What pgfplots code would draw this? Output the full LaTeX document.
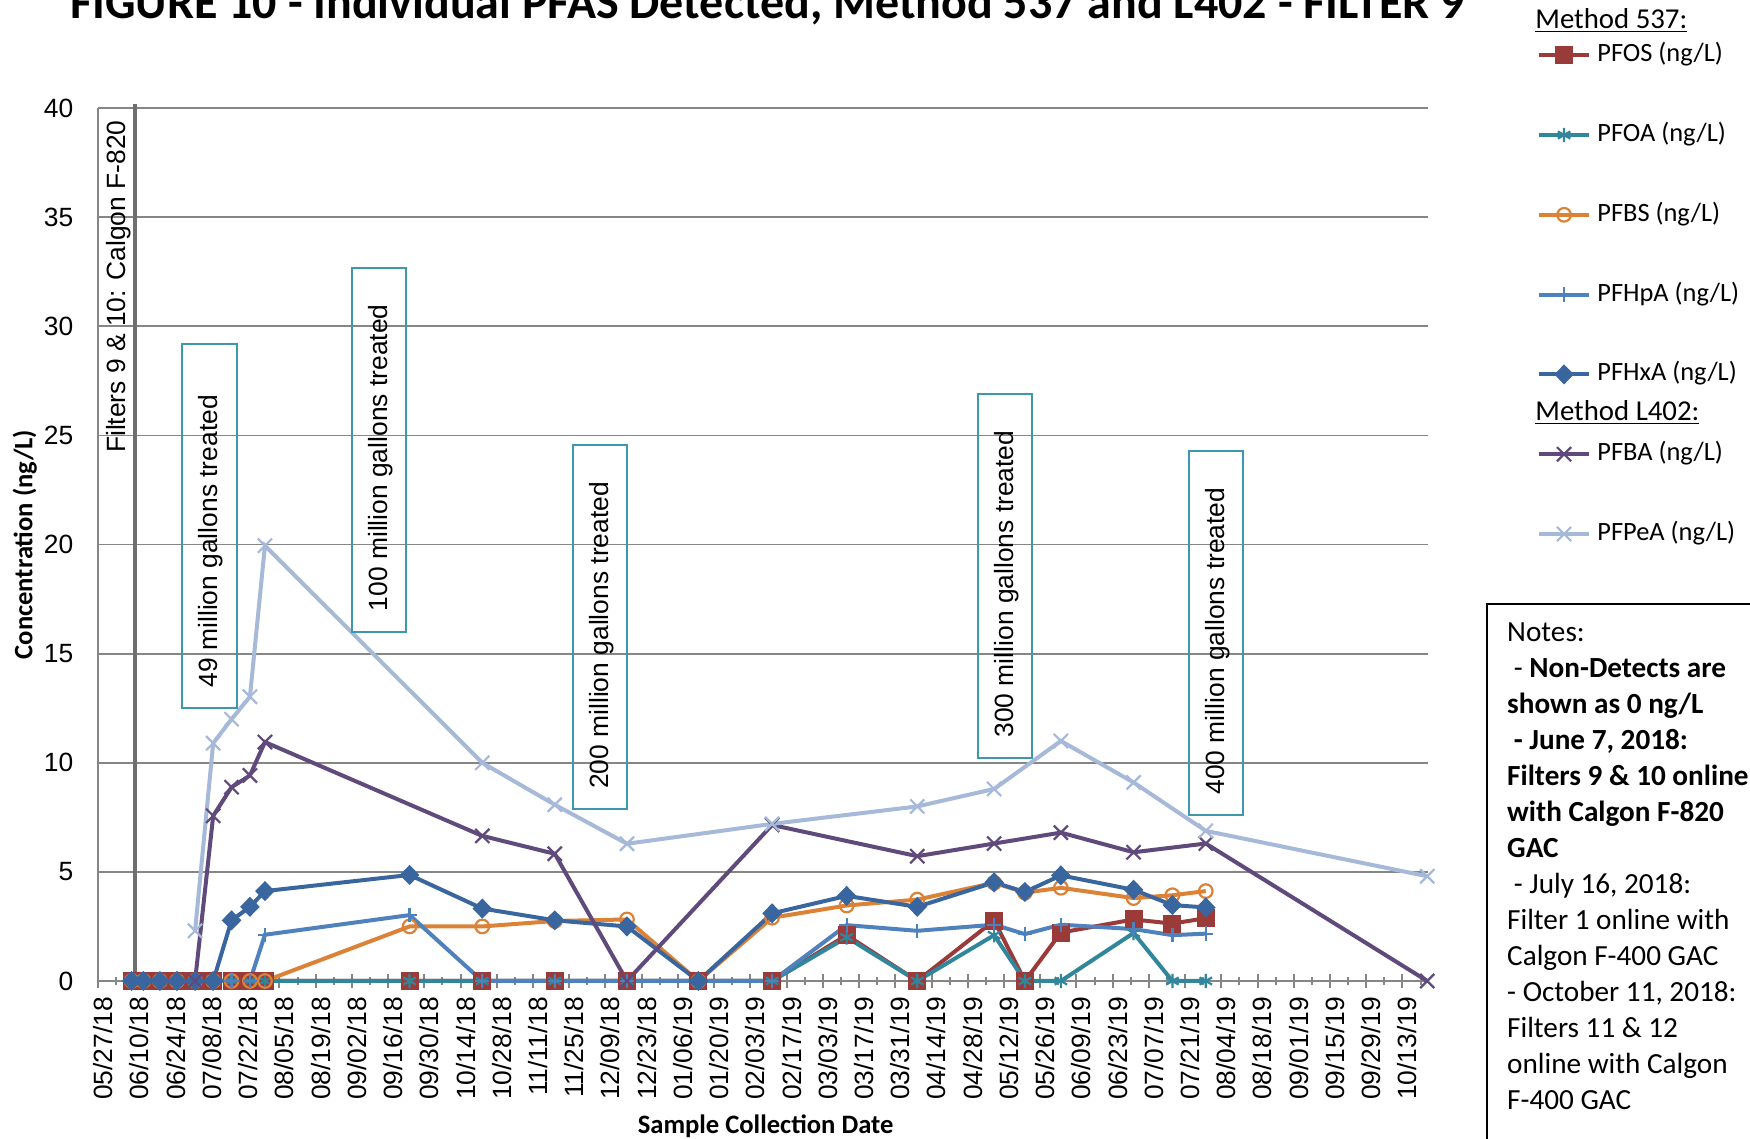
\documentclass[border=0pt]{standalone}
\usepackage{pgfplots}
\pgfplotsset{compat=1.18}
\usepackage{fontspec}
\setmainfont{Carlito}
\newfontfamily\arialf{Liberation Sans}

\definecolor{gridgray}{RGB}{134,134,134}
\definecolor{filtgray}{RGB}{110,110,110}
\definecolor{boxc}{RGB}{63,151,174}
\definecolor{cPFOS}{RGB}{155,59,57}
\definecolor{cPFOA}{RGB}{49,134,156}
\definecolor{cPFBS}{RGB}{220,130,54}
\definecolor{cPFHpA}{RGB}{79,129,189}
\definecolor{cPFHxA}{RGB}{58,102,160}
\definecolor{cPFBA}{RGB}{96,74,123}
\definecolor{cPFPeA}{RGB}{166,185,216}

\newcommand{\tickfont}{\arialf\fontsize{13.2}{15.8}\selectfont}
\newcommand{\legfont}{\fontsize{13.2}{15.8}\selectfont}
\newcommand{\headfont}{\fontsize{14.4}{17}\selectfont}
\newcommand{\notefont}{\fontsize{14.6}{18}\selectfont}
\newcommand{\gbox}[3]{%
  \draw[boxc, line width=1pt] (#1pt,#2pt) rectangle ++(27.3pt,181.9pt);
  \node[rotate=90, anchor=west, font=\tickfont, inner sep=0pt]
    at ([xshift=14.4pt, yshift=10pt]#1pt,#2pt) {#3};}

\begin{document}
\begin{tikzpicture}
\useasboundingbox (0,0) rectangle (875pt,569.5pt);
\clip (0,0) rectangle (875pt,569.5pt);
\begin{axis}[
  at={(49.15pt,79pt)}, anchor=south west,
  scale only axis, width=665pt, height=436.4pt,
  xmin=0, xmax=514, ymin=0, ymax=40,
  clip=false,
  axis x line*=bottom, axis y line*=left,
  axis line style={-, draw=gridgray, line width=1pt},
  xtick={0,14,...,504},
  minor xtick={7,21,...,511},
  xticklabels={05/27/18,06/10/18,06/24/18,07/08/18,07/22/18,08/05/18,08/19/18,
    09/02/18,09/16/18,09/30/18,10/14/18,10/28/18,11/11/18,11/25/18,12/09/18,
    12/23/18,01/06/19,01/20/19,02/03/19,02/17/19,03/03/19,03/17/19,03/31/19,
    04/14/19,04/28/19,05/12/19,05/26/19,06/09/19,06/23/19,07/07/19,07/21/19,
    08/04/19,08/18/19,09/01/19,09/15/19,09/29/19,10/13/19},
  ytick={0,5,...,40},
  ymajorgrids, grid style={gridgray, line width=0.9pt},
  xtick align=center,
  major tick length=7pt, minor tick length=4pt,
  x tick style={gridgray, line width=1pt},
  y tick style={draw=none},
  x tick label style={xshift=2.5pt, rotate=90, anchor=east, font=\tickfont, inner sep=0pt},
  y tick label style={anchor=east, font=\tickfont, inner sep=0pt},
  xticklabel shift=4.3pt, yticklabel shift=12.3pt,
  /pgf/number format/assume math mode=true,
  legend cell align=left,
  legend style={draw=none, fill=none, inner sep=0pt, outer sep=0pt,
    at={(1.082,1.1219)}, anchor=north west,
    row sep=6.45pt, column sep=3.3pt,
    nodes={inner sep=0pt, text height=10pt, text depth=3.5pt, font=\legfont}},
  legend image code/.code={\draw[mark repeat=2, mark phase=2, #1]
    plot coordinates {(0pt,0pt) (12.35pt,0pt) (24.7pt,0pt)};},
  every axis plot/.append style={line width=2pt},
]
\addplot[forget plot, filtgray, line width=1.6pt, mark=none] coordinates {(14.2,0) (14.2,40.2)};

\addlegendimage{empty legend}
\addlegendentry{\hspace*{-31pt}\raisebox{-3.2pt}{\headfont\underline{Method 537:}}}

\addplot[cPFOS, mark=square*, mark size=3.5pt, mark options={solid, fill=cPFOS}] coordinates {
  (12.9,0) (17.4,0) (23.8,0) (30.4,0) (37.4,0) (44.4,0) (51.5,0) (58.6,0) (64.4,0)
  (120.3,0) (148.4,0) (176.4,0) (204.3,0) (231.9,0) (260.4,0)
  (289.2,2.1) (316.5,0) (346.2,2.77) (358.1,0) (372.0,2.22) (400.1,2.82)
  (415.1,2.63) (428.0,2.88)
};
\addlegendentry{PFOS (ng/L)}
\addlegendimage{empty legend}\addlegendentry{}

\addplot[cPFOA, mark=asterisk, mark size=3.6pt, mark options={solid, line width=1.1pt}] coordinates {
  (12.9,0) (17.4,0) (23.8,0) (30.4,0) (37.4,0) (44.4,0) (51.5,0) (58.6,0) (64.4,0)
  (120.3,0) (148.4,0) (176.4,0) (204.3,0) (231.9,0) (260.4,0)
  (289.2,2.0) (316.5,0) (346.2,2.1) (358.1,0) (372.0,0) (400.1,2.2)
  (415.1,0) (428.0,0)
};
\addlegendentry{PFOA (ng/L)}
\addlegendimage{empty legend}\addlegendentry{}

\addplot[cPFBS, mark=o, mark size=3.4pt, mark options={solid, line width=1.1pt}] coordinates {
  (12.9,0) (17.4,0) (23.8,0) (30.4,0) (37.4,0) (44.4,0) (51.5,0) (58.6,0) (64.4,0)
  (120.3,2.5) (148.4,2.5) (176.4,2.75) (204.3,2.82) (231.9,0) (260.4,2.9)
  (289.2,3.46) (316.5,3.73) (346.2,4.5) (358.1,4.05) (372.0,4.27) (400.1,3.8)
  (415.1,3.93) (428.0,4.12)
};
\addlegendentry{PFBS (ng/L)}
\addlegendimage{empty legend}\addlegendentry{}

\addplot[cPFHpA, mark=+, mark size=3.6pt, mark options={solid, line width=1.1pt}] coordinates {
  (12.9,0) (17.4,0) (23.8,0) (30.4,0) (37.4,0) (44.4,0) (51.5,0) (58.6,0) (64.4,2.12)
  (120.3,3.02) (148.4,0) (176.4,0) (204.3,0) (231.9,0) (260.4,0)
  (289.2,2.56) (316.5,2.3) (346.2,2.58) (358.1,2.15) (372.0,2.58) (400.1,2.38)
  (415.1,2.1) (428.0,2.17)
};
\addlegendentry{PFHpA (ng/L)}
\addlegendimage{empty legend}\addlegendentry{}

\addplot[cPFHxA, mark=diamond*, mark size=3.6pt, mark options={solid, fill=cPFHxA, xscale=1.3}] coordinates {
  (12.9,0) (17.4,0) (23.8,0) (30.4,0) (37.4,0) (44.4,0) (51.5,2.78) (58.6,3.4) (64.4,4.12)
  (120.3,4.86) (148.4,3.32) (176.4,2.78) (204.3,2.5) (231.9,0) (260.4,3.1)
  (289.2,3.9) (316.5,3.4) (346.2,4.52) (358.1,4.08) (372.0,4.84) (400.1,4.18)
  (415.1,3.48) (428.0,3.37)
};
\addlegendentry{PFHxA (ng/L)}

\addlegendimage{empty legend}
\addlegendentry{\hspace*{-31pt}\headfont\underline{Method L402:}}

\addplot[cPFBA, mark=x, mark size=5pt, mark options={solid, line width=1.1pt}] coordinates {
  (37.4,0) (44.4,7.57) (51.5,8.88) (58.6,9.42) (64.4,10.95)
  (148.4,6.65) (176.4,5.83) (204.3,0) (260.4,7.15)
  (316.5,5.72) (346.2,6.3) (372.0,6.8) (400.1,5.9) (428.0,6.3) (513.6,0)
};
\addlegendentry{PFBA (ng/L)}
\addlegendimage{empty legend}\addlegendentry{}

\addplot[cPFPeA, mark=x, mark size=5pt, mark options={solid, line width=1.1pt}] coordinates {
  (37.4,2.3) (44.4,10.9) (51.5,12.0) (58.6,13.03) (64.4,19.95)
  (148.4,10.0) (176.4,8.08) (204.3,6.29) (260.4,7.2)
  (316.5,8.0) (346.2,8.8) (372.0,11.0) (400.1,9.1) (428.0,6.88) (513.6,4.8)
};
\addlegendentry{PFPeA (ng/L)}
\end{axis}

% title, cut off at the top edge as in the source
\node[anchor=base, font=\bfseries\fontsize{24}{28}\selectfont] at (383.7pt,560pt)
  {FIGURE 10 - Individual PFAS Detected, Method 537 and L402 - FILTER 9};
\node[anchor=base, font=\bfseries\fontsize{13.3}{16}\selectfont] at (382.8pt,2.5pt)
  {Sample Collection Date};
\node[rotate=90, anchor=base, font=\bfseries\fontsize{13.3}{16}\selectfont] at (16.2pt,297.2pt)
  {Concentration (ng/L)};
\node[rotate=90, anchor=base west, font=\tickfont, inner sep=0pt] at (62.5pt,342.8pt)
  {Filters 9 \& 10: Calgon F-820};

\gbox{91.0}{215.7}{49 million gallons treated}
\gbox{175.8}{253.7}{100 million gallons treated}
\gbox{286.3}{164.9}{200 million gallons treated}
\gbox{488.9}{190.6}{300 million gallons treated}
\gbox{594.4}{162.1}{400 million gallons treated}

% notes box runs off the right and bottom edges
\draw[black, line width=1pt] (743.4pt,-20pt) rectangle (920pt,267.6pt);
\node[anchor=north west, inner sep=0pt, align=left, font=\notefont] at (753.4pt,258.2pt) {%
  Notes:\\
  \hspace*{0.23em}- \textbf{Non-Detects are}\\
  \textbf{shown as 0 ng/L}\\
  \hspace*{0.23em}\textbf{- June 7, 2018:}\\
  \textbf{Filters 9 \& 10 online}\\
  \textbf{with Calgon F-820}\\
  \textbf{GAC}\\
  \hspace*{0.23em}- July 16, 2018:\\
  Filter 1 online with\\
  Calgon F-400 GAC\\
  - October 11, 2018:\\
  Filters 11 \& 12\\
  online with Calgon\\
  F-400 GAC};
\end{tikzpicture}
\end{document}
